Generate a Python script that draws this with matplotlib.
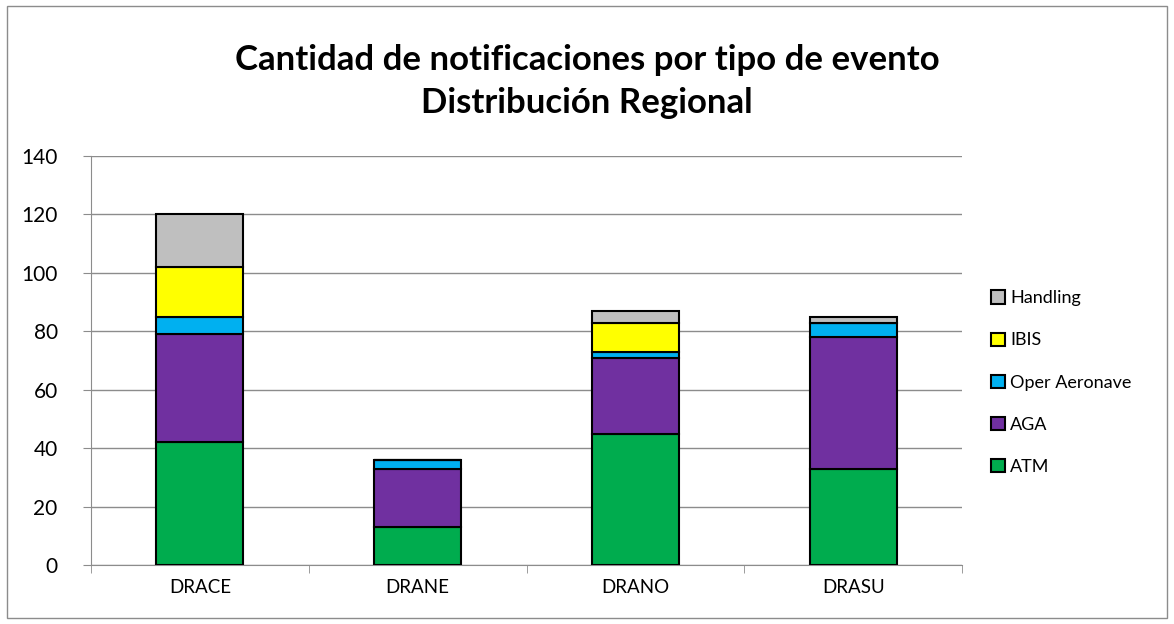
import matplotlib.pyplot as plt
import numpy as np

plt.rcParams['font.family'] = ['Lato', 'DejaVu Sans']

# Data
regions = ['DRACE', 'DRANE', 'DRANO', 'DRASU']
series = ['ATM', 'AGA', 'Oper Aeronave', 'IBIS', 'Handling']
atm = [42, 13, 45, 33]
aga = [37, 20, 26, 45]
oper = [6, 3, 2, 5]
ibis = [17, 0, 10, 0]
handling = [18, 0, 4, 2]
colors = ['#00AC4E', '#7030A0', '#00B0F0', '#FFFF00', '#BFBFBF']

fig = plt.figure(figsize=(11.74, 6.24), dpi=100)
ax = fig.add_axes([91 / 1174, 1 - 565 / 624, 871 / 1174, 409 / 624])

x = np.arange(len(regions))
bottom = np.zeros(len(regions))
handles = []
for name, vals, col in zip(series, [atm, aga, oper, ibis, handling], colors):
    vals = np.array(vals, dtype=float)
    b = ax.bar(x, vals, width=0.4, bottom=bottom, color=col,
               edgecolor='black', linewidth=1.5, label=name, zorder=3)
    handles.append(b)
    bottom += vals

ax.set_xlim(-0.5, len(regions) - 0.5)
ax.set_ylim(0, 140)
ax.set_yticks(range(0, 141, 20))
ax.yaxis.grid(True, color='#8c8c8c', linewidth=1, zorder=0)
ax.set_xticks(x)
ax.set_xticklabels(regions, fontsize=13.5)
ax.set_xticks(np.arange(-0.5, len(regions)), minor=True)
ax.tick_params(axis='x', which='major', length=0, pad=10)
ax.tick_params(axis='x', which='minor', length=6, color='#8c8c8c', direction='out')
ax.tick_params(axis='y', labelsize=15, length=6, color='#8c8c8c', pad=18)
for s in ['top', 'right']:
    ax.spines[s].set_visible(False)
for s in ['left', 'bottom']:
    ax.spines[s].set_color('#8c8c8c')

fig.text(0.5, 1 - 60 / 624, 'Cantidad de notificaciones por tipo de evento',
         ha='center', va='center', fontsize=25, fontweight='bold')
fig.text(0.5, 1 - 103 / 624, 'Distribución Regional',
         ha='center', va='center', fontsize=25, fontweight='bold')

leg = fig.legend(handles[::-1], series[::-1], loc='upper left',
                 bbox_to_anchor=(975 / 1174, 1 - 274 / 624), frameon=False,
                 fontsize=13, handlelength=0.75, handleheight=0.75,
                 labelspacing=1.45, handletextpad=0.3)

fig.patches.append(plt.Rectangle((7 / 1174, 6 / 624), 1160 / 1174, 612 / 624,
                                 transform=fig.transFigure, fill=False,
                                 edgecolor='#8c8c8c', linewidth=1))

fig.savefig('out.png', dpi=100)
